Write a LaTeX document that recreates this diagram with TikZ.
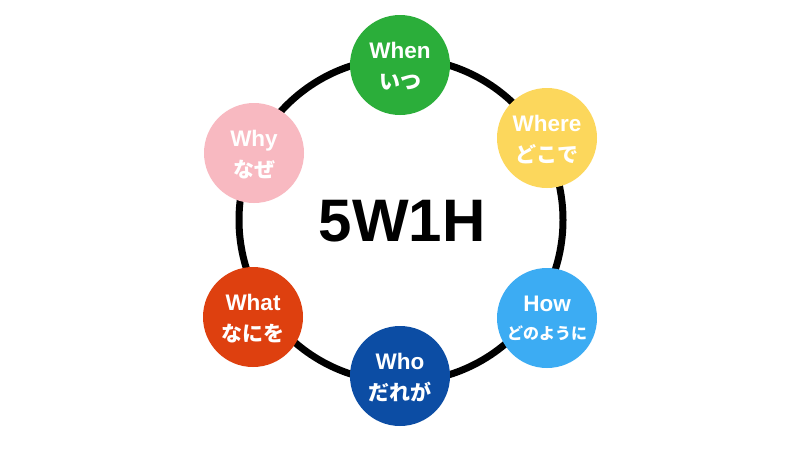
\documentclass[tikz,border=0pt]{standalone}
\usepackage{fontspec}
\setmainfont{Liberation Sans}
\newfontfamily\jpfont{Noto Sans CJK JP}
\definecolor{cwhen}{HTML}{2BAE3A}
\definecolor{cwhere}{HTML}{FCD75C}
\definecolor{chow}{HTML}{3CACF3}
\definecolor{cwho}{HTML}{0C4DA4}
\definecolor{cwhat}{HTML}{DE400F}
\definecolor{cwhy}{HTML}{F8B9C1}
\tikzset{
  dot/.style={circle, minimum size=100pt, inner sep=0pt, fill=#1},
  entxt/.style={anchor=base, inner sep=0pt, text=white, font=\fontsize{22.5}{24}\selectfont\bfseries},
  jptxt/.style={anchor=base, inner sep=0pt, text=white, font=\fontsize{21}{24}\selectfont\jpfont\bfseries},
  jpsmall/.style={jptxt, font=\fontsize{16}{20}\selectfont\jpfont\bfseries},
}
\begin{document}
\begin{tikzpicture}[x=1pt,y=-1pt]
\useasboundingbox[fill=white] (0,0) rectangle (800,450);
\node[circle, minimum size=324pt, inner sep=0pt, draw=black, line width=7pt] (ring) at (401,220) {};
\node[dot=cwhen]  (when)  at (400,65)  {};
\node[dot=cwhere] (where) at (547,138) {};
\node[dot=chow]   (how)   at (547,318) {};
\node[dot=cwho]   (who)   at (400,376) {};
\node[dot=cwhat]  (what)  at (253,317) {};
\node[dot=cwhy]   (why)   at (254,153) {};
\foreach \n/\e/\j in {when/When/いつ, where/Where/どこで, who/Who/だれが, what/What/なにを, why/Why/なぜ}{
  \node[entxt] (\n-en) at ([yshift=7pt]\n.center) {\e};
  \node[jptxt] (\n-jp) at ([yshift=-24pt]\n.center) {\j};
}
\node[entxt] (how-en) at ([yshift=7pt]how.center) {How};
\node[jpsmall] (how-jp) at ([yshift=-21pt]how.center) {どのように};
\node[anchor=center, inner sep=0pt, font=\fontsize{60}{64}\selectfont\bfseries] (title) at (402,221) {5W1H};
\end{tikzpicture}
\end{document}
